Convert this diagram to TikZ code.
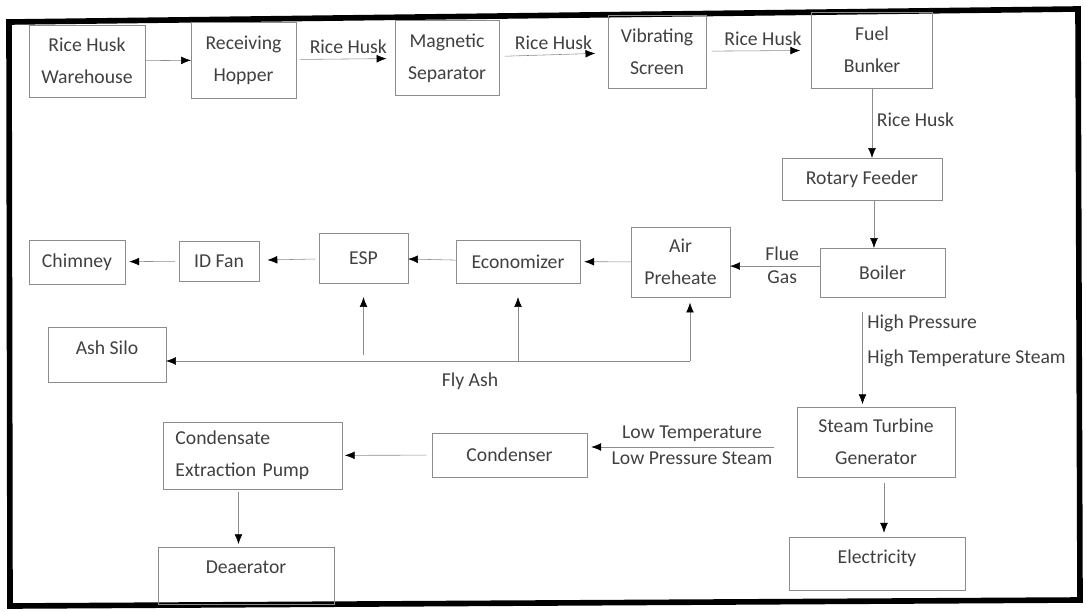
\documentclass[tikz,border=0pt]{standalone}
\usepackage{fontspec}
\setmainfont{Carlito}
\usetikzlibrary{arrows.meta}
\begin{document}
\begin{tikzpicture}[x=0.025cm, y=-0.025cm,
  box/.style={draw=black!45, thin, outer sep=0pt, text=black!75,
    font=\fontsize{14}{22.7}\selectfont, align=center},
  flow/.style={draw=black!45, thin, -{Latex[length=7pt,width=5.5pt,black]}},
  lbl/.style={text=black!75, font=\fontsize{14}{17}\selectfont}]
  \useasboundingbox (0,0) rectangle (1086,612);
  \draw[line width=4pt] (9,22) -- (1078,9) -- (1080,600) -- (10,606) -- cycle;

  \node[box, minimum width=2.9cm, minimum height=1.8cm] (ware) at (87,61) {Rice Husk\\Warehouse};
  \node[box, minimum width=2.625cm, minimum height=1.9cm] (hop) at (243.5,60) {Receiving\\Hopper};
  \node[box, minimum width=2.6cm, minimum height=1.875cm] (mag) at (447,58) {Magnetic\\Separator};
  \node[box, minimum width=2.45cm, minimum height=1.825cm] (vib) at (657,51.5) {Vibrating\\Screen};
  \node[box, minimum width=3.025cm, minimum height=1.9cm] (fuel) at (872,50) {Fuel\\Bunker};
  \node[box, minimum width=4cm, minimum height=1.05cm] (rot) at (862,179) {Rotary Feeder};
  \node[box, minimum width=3.125cm, minimum height=1.225cm] (boil) at (882.5,272.5) {Boiler};
  \node[box, minimum width=2.475cm, minimum height=1.75cm] (ap) at (680.5,262) {Air\\Preheate};
  \node[box, minimum width=3.1cm, minimum height=1.075cm] (eco) at (518,261.5) {Economizer};
  \node[box, minimum width=2.225cm, minimum height=1.25cm] (esp) at (363.5,258) {ESP};
  \node[box, minimum width=2cm, minimum height=1cm] (idf) at (219,261) {ID Fan};
  \node[box, minimum width=2.4cm, minimum height=1.1cm] (chim) at (77,262) {Chimney};
  \node[box, minimum width=2.95cm, minimum height=1.375cm, text depth=10pt] (silo) at (107,354.5) {Ash Silo};
  \node[box, minimum width=3.95cm, minimum height=1.75cm] (stg) at (876,442) {Steam Turbine\\Generator};
  \node[box, minimum width=4.4cm, minimum height=1.325cm, text depth=10pt] (elec) at (877,563.5) {Electricity};
  \node[box, minimum width=3.875cm, minimum height=1.1cm] (cond) at (509.5,455) {Condenser};
  \node[box, minimum width=4.475cm, minimum height=1.675cm, text width=3.85cm, align=left] (cep) at (252.5,455.5) {Condensate\\Extraction Pump};
  \node[box, minimum width=4.4cm, minimum height=1.425cm, text depth=12pt] (dea) at (246,575.5) {Deaerator};

  \draw[flow] (ware) -- (hop);
  \draw[flow, shorten <=3pt, shorten >=6pt] (hop) -- node[lbl, above, xshift=2pt] {Rice Husk} (mag);
  \draw[flow, shorten <=4pt, shorten >=9pt] (mag) -- node[lbl, above] {Rice Husk} (vib);
  \draw[flow, shorten <=4pt, shorten >=8pt] (vib) -- node[lbl, above, xshift=3pt] {Rice Husk} (fuel);
  \draw[flow] (fuel.south) -- node[lbl, right, pos=0.45] {Rice Husk} (fuel.south |- rot.north);
  \draw[flow] ([xshift=0.3cm]rot.south) -- ([xshift=0.3cm]rot.south |- boil.north);

  \draw[flow] ([yshift=0.16cm]boil.west) -- node[lbl, above, pos=0.42] {Flue} node[lbl, below, pos=0.42] {Gas} ([yshift=0.16cm]boil.west -| ap.east);
  \draw[flow, shorten >=3pt] (ap) -- (eco);
  \draw[flow] (eco) -- (esp);
  \draw[flow, shorten <=3pt, shorten >=6pt] (esp) -- (idf);
  \draw[flow, shorten <=3pt, shorten >=3pt] (idf) -- (chim);

  \coordinate (ash) at (690,361);
  \draw[flow] (ash) -- node[lbl, below=5pt, pos=0.42] {Fly Ash} (ash -| silo.east);
  \draw[flow, shorten >=4pt] (ash) -- (ash |- ap.south);
  \draw[flow, shorten >=10pt] (eco.south |- ash) -- (eco.south);
  \draw[flow, shorten <=4pt, shorten >=10pt] (esp.south |- ash) -- (esp.south);

  \draw[flow, shorten <=11pt, shorten >=2pt] ([xshift=-0.5cm]boil.south) -- node[lbl, right, align=left, pos=0.4, font=\fontsize{14}{25}\selectfont] {High Pressure\\High Temperature Steam} ([xshift=-0.5cm]boil.south |- stg.north);
  \draw[flow, shorten <=16pt, shorten >=3pt] ([yshift=-0.125cm]stg.west) -- node[lbl, above] {Low Temperature} node[lbl, below] {Low Pressure Steam} ([yshift=-0.125cm]stg.west -| cond.east);
  \draw[flow, shorten <=4pt, shorten >=2pt] (cond) -- (cep);
  \draw[flow, shorten <=2pt, shorten >=2pt] ([xshift=-0.35cm]cep.south) -- ([xshift=-0.35cm]cep.south |- dea.north);
  \draw[flow, shorten <=4pt, shorten >=3pt] ([xshift=0.2cm]stg.south) -- ([xshift=0.2cm]stg.south |- elec.north);
\end{tikzpicture}
\end{document}
